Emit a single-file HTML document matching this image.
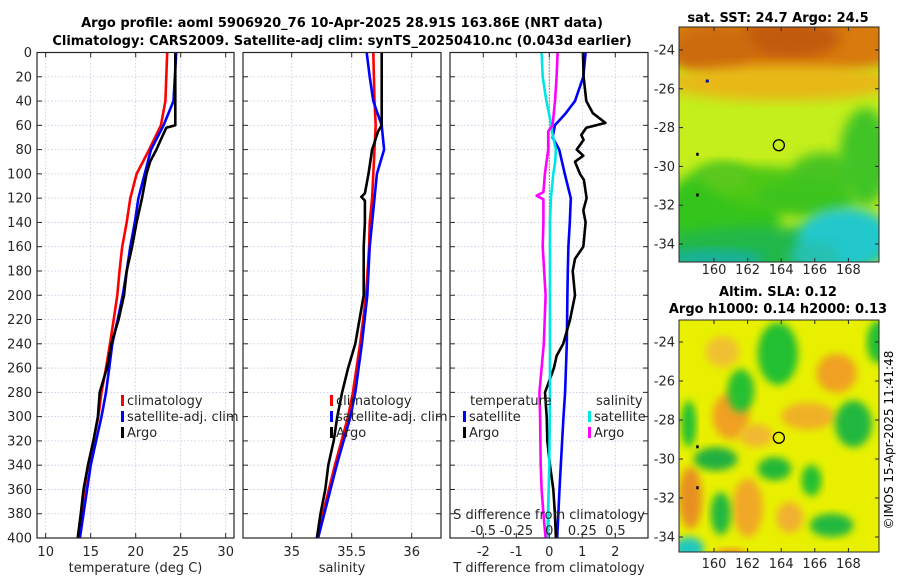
<!DOCTYPE html>
<html><head><meta charset="utf-8">
<style>
html,body{margin:0;padding:0;background:#fff;}
svg{display:block;font-family:"DejaVu Sans","Liberation Sans",sans-serif;}
</style></head>
<body>
<svg id="fig" width="900" height="580" viewBox="0 0 900 580" xmlns="http://www.w3.org/2000/svg">
<defs>
<filter id="blurA" x="-20%" y="-20%" width="140%" height="140%"><feGaussianBlur stdDeviation="6"/></filter>
<filter id="blurB" x="-20%" y="-20%" width="140%" height="140%"><feGaussianBlur stdDeviation="4"/></filter>
<clipPath id="clipTop"><rect x="679" y="27" width="200" height="235"/></clipPath>
<clipPath id="clipBot"><rect x="679" y="320" width="200" height="232"/></clipPath>
</defs>
<text x="342" y="27" text-anchor="middle" font-weight="bold" font-size="13">Argo profile: aoml 5906920_76 10-Apr-2025 28.91S 163.86E (NRT data)</text>
<text x="342" y="45" text-anchor="middle" font-weight="bold" font-size="13">Climatology: CARS2009. Satellite-adj clim: synTS_20250410.nc (0.043d earlier)</text>
<text x="778" y="22" text-anchor="middle" font-weight="bold" font-size="13">sat. SST: 24.7 Argo: 24.5</text>
<text x="778" y="296" text-anchor="middle" font-weight="bold" font-size="13">Altim. SLA: 0.12</text>
<text x="778" y="313" text-anchor="middle" font-weight="bold" font-size="13">Argo h1000: 0.14 h2000: 0.13</text>
<text transform="translate(893,440) rotate(-90)" text-anchor="middle" font-size="12">©IMOS 15-Apr-2025 11:41:48</text>
<g id="layer"></g>
</svg>
<script>
// ---- profile data (depth in m) ----
const depthsTclim = [0,40,60,80,100,120,140,160,180,200,220,240,260,280,300,320,340,360,380,400];
const tempClim =    [23.5,23.3,22.8,21.5,20.1,19.4,19.0,18.5,18.2,17.96,17.55,17.14,16.7,16.2,15.85,15.3,14.7,14.3,13.95,13.6];
const tempSat =     [24.5,24.2,23.1,21.7,21.0,20.3,19.9,19.4,19.0,18.55,18.0,17.4,17.05,16.7,16.2,15.6,15.0,14.6,14.2,13.8];
const depthsTargo = [0,40,60,62,70,80,90,100,120,140,160,180,200,220,240,260,280,300,320,340,360,380,400];
const tempArgo =    [24.4,24.4,24.4,23.4,22.9,22.3,21.6,21.2,20.7,20.1,19.6,19.0,18.7,18.1,17.3,16.8,16.0,15.8,15.3,14.7,14.2,13.9,13.55];

const depthsS =     [0,20,40,60,80,100,120,140,160,200,240,280,300,340,400];
const salClim =     [35.68,35.685,35.69,35.70,35.69,35.68,35.67,35.65,35.645,35.62,35.57,35.51,35.47,35.36,35.21];
const salSat =      [35.625,35.65,35.68,35.75,35.77,35.71,35.69,35.67,35.65,35.63,35.585,35.53,35.49,35.375,35.22];
const depthsSargo = [0,60,65,80,100,116,119,122,140,160,200,220,240,260,280,300,320,340,360,380,400];
const salArgo =     [35.75,35.75,35.72,35.67,35.64,35.61,35.58,35.61,35.61,35.60,35.60,35.565,35.53,35.47,35.42,35.38,35.35,35.305,35.28,35.24,35.21];

const depthsDT =    [0,20,40,50,60,70,80,100,120,140,160,180,200,240,280,300,340,360,400];
const dTsat =       [1.1,1.03,0.78,0.5,0.17,0.1,0.3,0.47,0.65,0.62,0.58,0.56,0.55,0.53,0.48,0.43,0.35,0.31,0.24];
const depthsDTa =   [0,20,40,50,58,62,68,72,80,85,90,100,105,120,130,140,160,170,180,200,220,240,250,260,280,300,320,340,360,380,400];
const dTargo =      [1.02,1.04,1.12,1.32,1.7,1.12,0.97,1.04,0.83,1.03,0.78,0.93,1.05,1.13,1.03,1.1,1.03,0.78,0.71,0.78,0.63,0.42,0.22,0.14,-0.13,-0.08,-0.06,0.02,0.12,0.17,0.2];
const depthsDS =    [0,20,40,60,65,80,90,100,120,140,200,280,340,400];
const dSsat =       [-0.058,-0.05,-0.022,0.015,0.02,0.05,0.045,0.03,0.012,0.005,0.005,0.005,0.0,-0.015];
const depthsDSa =   [0,20,40,60,65,80,100,115,118,121,140,160,200,240,280,300,340,360,380,400];
const dSargo =      [0.063,0.055,0.043,0.025,-0.008,-0.008,-0.033,-0.045,-0.096,-0.045,-0.045,-0.05,-0.028,-0.042,-0.075,-0.07,-0.065,-0.058,-0.045,-0.028];

const depthTicks = [0,20,40,60,80,100,120,140,160,180,200,220,240,260,280,300,320,340,360,380,400];
const tTicks = [10,15,20,25,30];
const sTicks = [35,35.5,36];
const dTTicks = [-2,-1,0,1,2];
const dSTickLabels = ['-0.5','-0.25','0','0.25','0.5'];
const latTicks = [-24,-26,-28,-30,-32,-34];
const lonTicks = [160,162,164,166,168];

const NS = 'http://www.w3.org/2000/svg';
const layer = document.getElementById('layer');
function mk(tag, attrs, parent){
  const e = document.createElementNS(NS, tag);
  for (const k in attrs) e.setAttribute(k, attrs[k]);
  (parent||layer).appendChild(e);
  return e;
}
const Y0 = 52.5, YB = 538;
function yD(d){ return Y0 + d*(YB-Y0)/400; }
const xT = v => 45.7 + (v-10)*9.0;
const xS = v => 291.7 + (v-35)*120;
const xDT = v => 549.3 + v*33;
const xDS = v => 549.3 + v*4*33;

const panels = [
  {x0:37,x1:234,name:'temperature-panel'},
  {x0:243,x1:441,name:'salinity-panel'},
  {x0:450,x1:648,name:'difference-panel'}
];

function grid(p, xs){
  xs.forEach(x=>{
    const l = mk('line',{x1:x,x2:x,y1:Y0,y2:YB,stroke:'#c9c4e0','stroke-width':0.8,'stroke-dasharray':'1.5,2'});
    
    
  });
  depthTicks.forEach(d=>{
    const l = mk('line',{x1:p.x0,x2:p.x1,y1:yD(d),y2:yD(d),stroke:'#c9c4e0','stroke-width':0.8,'stroke-dasharray':'1.5,2'});
    
    
  });
}
function frame(p, xs){
  const r = mk('rect',{x:p.x0,y:Y0,width:p.x1-p.x0,height:YB-Y0,fill:'none',stroke:'#262626','stroke-width':1.2});
  
  
  depthTicks.forEach(d=>{
    mk('line',{x1:p.x0,x2:p.x0+5,y1:yD(d),y2:yD(d),stroke:'#262626','stroke-width':1});
    mk('line',{x1:p.x1-5,x2:p.x1,y1:yD(d),y2:yD(d),stroke:'#262626','stroke-width':1});
  });
  xs.forEach(x=>{
    mk('line',{x1:x,x2:x,y1:Y0,y2:Y0+5,stroke:'#262626','stroke-width':1});
    mk('line',{x1:x,x2:x,y1:YB-5,y2:YB,stroke:'#262626','stroke-width':1});
  });
}
function line(ds, vs, xf, color, name, w){
  const pts = ds.map((d,i)=> xf(vs[i]).toFixed(1)+','+yD(d).toFixed(1)).join(' ');
  const pl = mk('polyline',{points:pts,fill:'none',stroke:color,'stroke-width':w||2.6,'stroke-linejoin':'round'});
  
  
}
function txt(x,y,s,attrs,name){
  const t = mk('text',Object.assign({x:x,y:y,'font-size':13,fill:'#262626'},attrs||{}));
  t.textContent = s;
  
  
  return t;
}

const p1x = tTicks.map(xT), p2x = sTicks.map(xS), p3x = dTTicks.map(xDT);
grid(panels[0], p1x); grid(panels[1], p2x); grid(panels[2], p3x);

line(depthsTclim, tempClim, xT, '#ff0000', 'temperature-climatology-line');
line(depthsTclim, tempSat, xT, '#0000ff', 'temperature-satellite-line');
line(depthsTargo, tempArgo, xT, '#000000', 'temperature-argo-line');

line(depthsS, salClim, xS, '#ff0000', 'salinity-climatology-line');
line(depthsS, salSat, xS, '#0000ff', 'salinity-satellite-line');
line(depthsSargo, salArgo, xS, '#000000', 'salinity-argo-line');

const z = mk('line',{x1:xDT(0),x2:xDT(0),y1:Y0,y2:YB,stroke:'#333','stroke-width':1,'stroke-dasharray':'1,2'});


line(depthsDT, dTsat, xDT, '#0000ff', 'dT-satellite-line');
line(depthsDTa, dTargo, xDT, '#000000', 'dT-argo-line');
line(depthsDS, dSsat, xDS, '#00e5e5', 'dS-satellite-line');
line(depthsDSa, dSargo, xDS, '#ff00ff', 'dS-argo-line');

frame(panels[0], p1x); frame(panels[1], p2x); frame(panels[2], p3x);

depthTicks.forEach(d=>{
  txt(32, yD(d)+4.5, String(d), {'text-anchor':'end'}, 'depth-tick-label');
});
tTicks.forEach(v=> txt(xT(v), 556, String(v), {'text-anchor':'middle'}, 'temperature-tick-label'));
sTicks.forEach(v=> txt(xS(v), 556, String(v), {'text-anchor':'middle'}, 'salinity-tick-label'));
dTTicks.forEach(v=> txt(xDT(v), 556, String(v), {'text-anchor':'middle'}, 'dT-tick-label'));
dTTicks.forEach((v,i)=> txt(xDT(v), 535, dSTickLabels[i], {'text-anchor':'middle'}, 'dS-tick-label'));
txt(135.5, 572, 'temperature (deg C)', {'text-anchor':'middle'}, 'temperature-axis-title');
txt(342, 572, 'salinity', {'text-anchor':'middle'}, 'salinity-axis-title');
txt(549, 572, 'T difference from climatology', {'text-anchor':'middle'}, 'dT-axis-title');
txt(549, 519, 'S difference from climatology', {'text-anchor':'middle'}, 'dS-axis-title');

function legEntry(x, y, color, label, name){
  const b = mk('rect',{x:x,y:y-10,width:3,height:11,fill:color});
  
  
  txt(x+6, y, label, {}, name);
}
legEntry(121,405,'#ff0000','climatology','legend-climatology');
legEntry(121,421,'#0000ff','satellite-adj. clim','legend-satellite-adj');
legEntry(121,437,'#000000','Argo','legend-argo');
legEntry(330,405,'#ff0000','climatology','legend2-climatology');
legEntry(330,421,'#0000ff','satellite-adj. clim','legend2-satellite-adj');
legEntry(330,437,'#000000','Argo','legend2-argo');
txt(470,405,'temperature',{},'legend-temperature-header');
legEntry(463,421,'#0000ff','satellite','legend-dT-satellite');
legEntry(463,437,'#000000','Argo','legend-dT-argo');
txt(596,405,'salinity',{},'legend-salinity-header');
legEntry(588,421,'#00e5e5','satellite','legend-dS-satellite');
legEntry(588,437,'#ff00ff','Argo','legend-dS-argo');

// ---- maps ----
const lonX = l => 714 + (l-160)*16.8;
const latYtop = a => 50 + (-24-a)*19.4;
const latYbot = a => 342 + (-24-a)*19.5;

function blobs(g, list, yf, filt){
  list.forEach(b=>{
    const e = mk('ellipse',{cx:lonX(b[0]),cy:yf(b[1]),rx:b[2]*16.8,ry:b[3]*19.5,fill:b[4],filter:filt}, g);
    
    
  });
}
const gTop = mk('g',{'clip-path':'url(#clipTop)'});


mk('rect',{x:679,y:27,width:200,height:235,fill:'#c4ee1c'},gTop);
blobs(gTop,[
  [164,-23.6,8,1.8,'#d87a10'],
  [164.5,-23.4,3,1,'#c25a08'],
  [160,-24,2.5,1.2,'#cc6a0c'],
  [164,-25.7,7,0.9,'#e8b814'],
  [160.5,-32.5,3.5,2.5,'#34c41c'],
  [163,-31,3,1,'#50c818'],
  [160.5,-30.5,1.5,0.7,'#5cc81c'],
  [166.5,-30.5,2,1.2,'#48c420'],
  [165.5,-31.6,3,1.0,'#3cc41c'],
  [169,-29.5,1.5,2.5,'#40c428'],
  [163,-34.3,7,1.2,'#20b84a'],
  [167.8,-33.7,2.8,1.6,'#22c8cc'],
  [166,-34.6,1.5,0.7,'#28c0b0'],
  [160,-34.8,3,0.5,'#18b0a0']
],latYtop,'url(#blurA)');
const gBot = mk('g',{'clip-path':'url(#clipBot)'});


mk('rect',{x:679,y:320,width:200,height:232,fill:'#e8f000'},gBot);
blobs(gBot,[
  [161,-27.8,1.1,1.2,'#f0a020'],[158.6,-32,0.7,1.6,'#e89020'],[162,-32.5,0.9,1.5,'#f0a828'],
  [167.3,-25.6,1.2,1,'#f0a020'],[165.6,-27.8,1.6,0.7,'#f0b028'],[162.5,-28.8,1,0.6,'#f0b830'],
  [164.5,-33,0.8,0.8,'#f0b030'],[161,-35,1,0.4,'#f09020'],[160.5,-24.5,1,0.8,'#f0c030'],
  [163.8,-24.6,1.2,1.6,'#20c030'],[161.6,-26.5,0.8,1.1,'#28c030'],[168.3,-28.2,1.1,1.2,'#20b840'],
  [160.1,-30,1.3,0.6,'#20b040'],[163.6,-30.5,1,0.6,'#20b838'],[165.8,-31.1,0.6,0.8,'#20c030'],
  [160.4,-32.8,0.6,1.1,'#20b840'],[167,-33.4,1.3,0.6,'#20b840'],[169.8,-24,0.7,1.1,'#20c030'],
  [158.5,-28.2,0.45,1.2,'#20c030'],[158.5,-34.6,0.9,0.6,'#20c8c0']
],latYbot,'url(#blurB)');

function mapFrame(y0,y1,yf,name,labY){
  const r = mk('rect',{x:679,y:y0,width:200,height:y1-y0,fill:'none',stroke:'#262626','stroke-width':1});
  
  
  latTicks.forEach(a=>{
    const y = yf(a);
    mk('line',{x1:679,x2:683,y1:y,y2:y,stroke:'#262626'});
    mk('line',{x1:875,x2:879,y1:y,y2:y,stroke:'#262626'});
    txt(675, y+4.5, String(a), {'text-anchor':'end'}, name+'-lat-label');
  });
  lonTicks.forEach(l=>{
    const x = lonX(l);
    mk('line',{x1:x,x2:x,y1:y1-4,y2:y1,stroke:'#262626'});
    mk('line',{x1:x,x2:x,y1:y0,y2:y0+4,stroke:'#262626'});
    txt(x, labY, String(l), {'text-anchor':'middle'}, name+'-lon-label');
  });
  const c = mk('circle',{cx:lonX(163.86),cy:yf(-28.91),r:5.5,fill:'none',stroke:'#000','stroke-width':1.3});
  
  
  [[159,-29.4],[159,-31.5]].forEach(p=>{
    mk('rect',{x:lonX(p[0])-1,y:yf(p[1])-2,width:2.5,height:3,fill:'#000'});
  });
}
mapFrame(27,262,latYtop,'sst-map',274);
mk('rect',{x:lonX(159.6)-1.5,y:latYtop(-25.6)-1.5,width:3,height:3,fill:'#0010a0'});
mapFrame(320,552,latYbot,'sla-map',568);
</script>
</body></html>
